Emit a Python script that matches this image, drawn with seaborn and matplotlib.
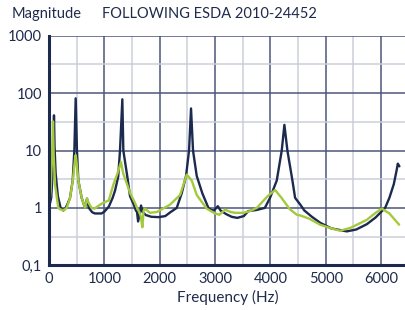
import numpy as np
import pandas as pd
import matplotlib
matplotlib.use("Agg")
import matplotlib.pyplot as plt
import seaborn as sns
from matplotlib.ticker import FixedLocator, FixedFormatter, NullFormatter

# ---- data ----
dark_freq = [0, 40, 65, 80, 90, 100, 120, 160, 210, 260, 301, 340, 380, 428, 458, 482,
             505, 530, 590, 650, 687, 720, 780, 830, 950, 1000, 1080, 1150, 1193, 1250, 1283,
             1325, 1343, 1415, 1464, 1530, 1570, 1590, 1610, 1640, 1663, 1690, 1750, 1850,
             1980, 2100, 2200, 2308, 2398, 2476, 2530, 2566, 2602, 2669, 2770, 2880, 2930,
             2980, 3050, 3100, 3200, 3300, 3400, 3520, 3600, 3750, 3900, 3994, 4115, 4205,
             4253, 4307, 4398, 4446, 4540, 4614, 4750, 4900, 5100, 5380, 5550, 5742, 5900,
             6000, 6073, 6150, 6230, 6280, 6302, 6331]
dark_mag = [1.0, 1.5, 4, 12, 41, 12, 4, 1.6, 1.0, 0.9, 1.0, 1.2, 1.5, 3, 10, 81,
            10, 3, 1.5, 1.0, 1.45, 1.0, 0.84, 0.8, 0.8, 0.86, 1.05, 1.5, 2.0, 3.5, 10,
            78, 10, 3.5, 1.6, 1.15, 0.9, 0.85, 0.58, 0.8, 1.1, 0.85, 0.75, 0.7,
            0.69, 0.72, 0.85, 1.0, 1.8, 3.6, 10, 54, 10, 3.6, 1.8, 1.0, 0.92,
            0.9, 1.07, 0.9, 0.78, 0.7, 0.67, 0.72, 0.88, 0.92, 1.0, 1.5, 3, 10,
            28, 10, 3, 1.5, 1.14, 0.9, 0.7, 0.55, 0.44, 0.39, 0.42, 0.52, 0.68,
            0.85, 1.0, 1.5, 2.6, 4.5, 5.9, 5.3]

green_freq = [0, 30, 55, 72, 85, 110, 168, 200, 260, 320, 380, 430, 470, 482, 500, 530,
              590, 650, 687, 720, 770, 820, 900, 975, 1080, 1163, 1230, 1301, 1340, 1434,
              1464, 1554, 1600, 1632, 1660, 1687, 1710, 1735, 1825, 1950, 2187, 2368, 2489,
              2579, 2669, 2850, 3000, 3078, 3181, 3280, 3362, 3512, 3633, 3754, 3950, 4085,
              4200, 4350, 4477, 4536, 4700, 4898, 5100, 5259, 5450, 5742, 5900, 6013, 6150,
              6326]
green_mag = [1.0, 2, 8, 32, 8, 2.5, 1.0, 0.95, 0.9, 1.0, 1.5, 3, 7, 8.3, 6, 3,
             1.5, 1.0, 1.45, 1.2, 1.0, 0.97, 1.1, 1.22, 1.35, 2.55, 3.8, 6.3, 4, 2.23,
             1.83, 1.22, 0.95, 0.85, 0.7, 0.46, 0.9, 0.97, 0.82, 0.85, 1.14, 1.68, 3.8,
             3.0, 1.68, 0.97, 0.8, 0.76, 0.93, 0.85, 0.82, 0.82, 0.88, 1.0, 1.6, 2.05,
             1.5, 0.95, 0.76, 0.74, 0.65, 0.51, 0.44, 0.40, 0.45, 0.62, 0.82, 0.97, 0.8,
             0.51]

x_ticks = [0, 1000, 2000, 3000, 4000, 5000, 6000]
x_tick_labels = ["0", "1000", "2000", "3000", "4000", "5000", "6000"]
y_ticks = [0.1, 1, 10, 100, 1000]
y_tick_labels = ["0,1", "1", "10", "100", "1000"]

NAVY = "#1b2a4e"
GREEN = "#a5c93c"
TEXT = "#1f2b4b"

sns.set_style("white")
plt.rcParams["font.family"] = ["Lato", "DejaVu Sans"]

fig = plt.figure(figsize=(4.06, 3.10), dpi=100)
ax = fig.add_axes([49 / 406, 1 - 265.3 / 310, 357 / 406, (265.3 - 35.7) / 310])

df_dark = pd.DataFrame({"freq": dark_freq, "mag": dark_mag})
df_green = pd.DataFrame({"freq": green_freq, "mag": green_mag})

sns.lineplot(data=df_dark, x="freq", y="mag", ax=ax, color=NAVY, lw=1.7,
             estimator=None, sort=False, zorder=3)
sns.lineplot(data=df_green, x="freq", y="mag", ax=ax, color=GREEN, lw=1.7,
             estimator=None, sort=False, zorder=4)

ax.set_yscale("log")
ax.set_ylim(0.1, 1000)
ax.set_xlim(0, 6450)

ax.xaxis.set_major_locator(FixedLocator(x_ticks))
ax.xaxis.set_major_formatter(FixedFormatter(x_tick_labels))
ax.xaxis.set_minor_locator(FixedLocator([500, 1500, 2500, 3500, 4500, 5500]))
ax.xaxis.set_minor_formatter(NullFormatter())
ax.yaxis.set_major_locator(FixedLocator(y_ticks))
ax.yaxis.set_major_formatter(FixedFormatter(y_tick_labels))
ax.yaxis.set_minor_locator(FixedLocator([10 ** (k + 0.5) for k in range(-1, 3)]))
ax.yaxis.set_minor_formatter(NullFormatter())

ax.grid(which="major", color="#4c5679", lw=1.1, zorder=1)
ax.grid(which="minor", color="#cbcedb", lw=1.1, zorder=1)
ax.set_axisbelow(True)

for s in ["top", "right"]:
    ax.spines[s].set_visible(False)
for s in ["left", "bottom"]:
    ax.spines[s].set_color(NAVY)
    ax.spines[s].set_linewidth(2.2)
    ax.spines[s].set_zorder(5)

ax.tick_params(which="both", length=0, pad=5, labelsize=10.5, labelcolor=TEXT)
ax.set_xlabel("Frequency (Hz)", fontsize=11, color=TEXT, labelpad=3)
ax.set_ylabel("")

fig.text(12 / 406, 1 - 14 / 310, "Magnitude", fontsize=10.5, color=TEXT, va="center", ha="left")
fig.text(102 / 406, 1 - 14 / 310, "FOLLOWING ESDA 2010-24452", fontsize=10.5, color=TEXT,
         va="center", ha="left")

fig.savefig("out.png", dpi=100)
